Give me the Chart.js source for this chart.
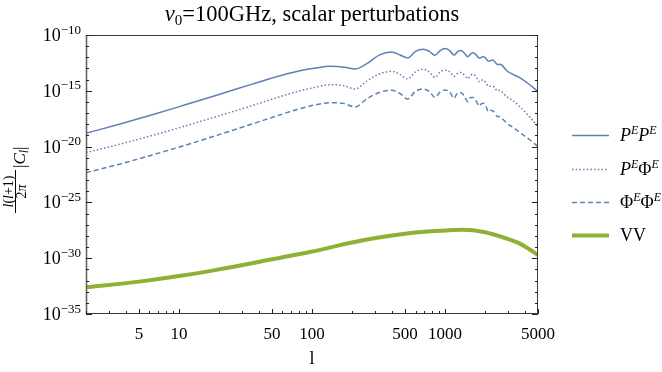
<!DOCTYPE html>
<html><head><meta charset="utf-8">
<script src="https://cdn.jsdelivr.net/npm/chart.js@4/dist/chart.umd.min.js"></script>
<style>html,body{margin:0;padding:0;background:#fff}#wrap{width:662px;height:372px;position:relative}</style>
</head><body><div id="wrap"><canvas id="c" width="662" height="372"></canvas></div>
<script>
// ---- data ----
const ell = [2, 3.5, 6.3, 11, 20, 36, 64, 81, 107, 137, 175, 210, 260, 320, 397, 460, 524, 600, 687, 760, 841, 920, 1000, 1085, 1169, 1240, 1321, 1400, 1482, 1560, 1634, 1720, 1812, 1880, 1941, 2030, 2118, 2200, 2286, 2380, 2474, 2570, 2672, 2912, 3266, 3664, 4355, 5000];
// log10 of l(l+1)/2pi |C_l|
const logPEPE = [-18.81, -18.02, -17.15, -16.28, -15.33, -14.38, -13.50, -13.20, -12.95, -12.80, -12.88, -13.05, -12.54, -11.80, -11.52, -11.79, -12.06, -11.46, -11.28, -11.46, -11.82, -11.40, -11.22, -11.40, -11.80, -11.52, -11.40, -11.64, -11.94, -11.70, -11.60, -11.80, -12.09, -12.00, -11.92, -12.10, -12.35, -12.30, -12.25, -12.42, -12.65, -12.62, -12.70, -13.20, -13.55, -13.85, -14.48, -15.08];
const logPEPhiE = [-20.54, -19.82, -19.00, -18.17, -17.24, -16.30, -15.35, -15.00, -14.68, -14.45, -14.55, -14.84, -14.10, -13.50, -13.25, -13.55, -13.94, -13.30, -13.07, -13.30, -13.79, -13.30, -13.15, -13.30, -13.70, -13.45, -13.35, -13.60, -13.90, -13.60, -13.52, -13.80, -14.18, -14.05, -14.03, -14.30, -14.60, -14.60, -14.60, -14.80, -15.00, -14.95, -15.10, -15.53, -15.90, -16.45, -17.38, -18.21];
const logPhiEPhiE = [-22.33, -21.60, -20.75, -19.90, -18.93, -17.95, -16.98, -16.60, -16.25, -16.06, -16.15, -16.45, -15.70, -15.15, -14.96, -15.25, -15.73, -15.05, -14.84, -15.05, -15.58, -15.10, -14.93, -15.10, -15.67, -15.20, -15.17, -15.50, -15.97, -15.60, -15.60, -15.95, -16.36, -16.15, -16.12, -16.40, -16.87, -16.75, -16.80, -17.00, -17.32, -17.30, -17.45, -17.90, -18.30, -18.75, -19.41, -20.00];
const ellVV = [2, 5, 10, 20, 50, 100, 200, 300, 500, 700, 1000, 1358, 2000, 2874, 3623, 4300, 5000];
const logVV = [-32.61, -32.10, -31.60, -31.00, -30.10, -29.40, -28.59, -28.19, -27.80, -27.62, -27.52, -27.46, -27.68, -28.22, -28.67, -29.20, -29.71];

const xTickValues = [5, 10, 50, 100, 500, 1000, 5000];
const xTickLabels = ['5', '10', '50', '100', '500', '1000', '5000'];
const yTickExponents = [-10, -15, -20, -25, -30, -35];
const chartTitle = ['ν', '0', '=100GHz, scalar perturbations'];
const xTitle = 'l';

// ---- styles ----
const BLUE = '#5E81B5';
const GREEN = '#8FB032';
const SERIF = '"Liberation Serif", "Times New Roman", serif';

const toPts = (xs, ls) => xs.map((l, i) => ({ x: l, y: Math.pow(10, ls[i]) }));

function drawRun(ctx, x, y, parts, align) {
  let w = 0;
  parts.forEach(p => { ctx.font = p[1]; w += ctx.measureText(p[0]).width; });
  if (align === 'center') x -= w / 2;
  else if (align === 'right') x -= w;
  ctx.textAlign = 'left';
  parts.forEach(p => {
    ctx.font = p[1];
    ctx.fillText(p[0], x, y + (p[2] || 0));
    x += ctx.measureText(p[0]).width;
  });
  return w;
}

const decor = {
  id: 'decor',
  afterDatasetsDraw(chart) {
    const ctx = chart.ctx;
    const { left, right, top, bottom } = chart.chartArea;
    const xs = chart.scales.x, ys = chart.scales.y;
    ctx.save();
    // frame
    ctx.strokeStyle = '#3a3a3a';
    ctx.lineWidth = 1;
    ctx.beginPath();
    ctx.moveTo(left + 0.5, top + 0.5); ctx.lineTo(right - 0.5, top + 0.5);
    ctx.lineTo(right - 0.5, bottom - 0.5); ctx.lineTo(left + 0.5, bottom - 0.5);
    ctx.closePath(); ctx.stroke();
    ctx.strokeStyle = '#666';
    ctx.lineWidth = 1.6;
    ctx.beginPath(); ctx.moveTo(left + 0.5, top); ctx.lineTo(left + 0.5, bottom); ctx.stroke();

    // ticks
    ctx.strokeStyle = '#222';
    ctx.lineWidth = 1;
    ctx.beginPath();
    for (let d = 1; d <= 1000; d *= 10) {
      for (let m = 1; m <= 9; m++) {
        const v = m * d;
        if (v < 2 || v > 5000) continue;
        const px = Math.round(xs.getPixelForValue(v)) + 0.5;
        const major = xTickValues.includes(v);
        const len = major ? 5 : 3;
        ctx.moveTo(px, bottom); ctx.lineTo(px, bottom - len);
      }
    }
    for (let e = -35; e <= -10; e++) {
      const py = Math.round(ys.getPixelForValue(Math.pow(10, e))) + 0.5;
      const major = yTickExponents.includes(e);
      const len = major ? 6 : 3;
      ctx.moveTo(left, py); ctx.lineTo(left + len, py);
      ctx.moveTo(right, py); ctx.lineTo(right - len, py);
    }
    ctx.stroke();

    ctx.fillStyle = '#000';
    ctx.textBaseline = 'alphabetic';
    // x tick labels
    xTickValues.forEach((v, i) => {
      const px = xs.getPixelForValue(v);
      drawRun(ctx, px, 339, [[xTickLabels[i], '17px ' + SERIF]], 'center');
    });
    // y tick labels
    yTickExponents.forEach(e => {
      const py = ys.getPixelForValue(Math.pow(10, e));
      drawRun(ctx, 81, py + 6, [['10', '18px ' + SERIF], ['−' + Math.abs(e), '13px ' + SERIF, -7.5]], 'right');
    });
    // x title
    drawRun(ctx, (left + right) / 2, 364, [[xTitle, '18px ' + SERIF]], 'center');
    // title
    drawRun(ctx, (left + right) / 2, 21, [
      [chartTitle[0], 'italic 22.5px ' + SERIF],
      [chartTitle[1], '15px ' + SERIF, 4],
      [chartTitle[2], '22.5px ' + SERIF]
    ], 'center');

    // y axis label (rotated)
    ctx.save();
    ctx.rotate(-Math.PI / 2);
    const fc = -191.5;
    ctx.strokeStyle = '#000';
    ctx.lineWidth = 1;
    ctx.beginPath(); ctx.moveTo(-213, 15.5); ctx.lineTo(-170, 15.5); ctx.stroke();
    drawRun(ctx, fc, 13, [
      ['l', 'italic 14px ' + SERIF], ['(', '14px ' + SERIF], ['l', 'italic 14px ' + SERIF], ['+1)', '14px ' + SERIF]
    ], 'center');
    drawRun(ctx, fc, 26, [['2', '14px ' + SERIF], ['π', 'italic 14px ' + SERIF]], 'center');
    drawRun(ctx, -168, 25, [
      ['|', '17px ' + SERIF], ['C', 'italic 17px ' + SERIF], ['l', 'italic 12px ' + SERIF, 3], ['|', '17px ' + SERIF]
    ], 'left');
    ctx.restore();

    // legend
    const lx0 = 572, lx1 = 609, tx = 620;
    const it = 'italic 18px ' + SERIF, up = '18px ' + SERIF, sup = 'italic 12px ' + SERIF;
    const rows = [
      { y: 135, color: BLUE, w: 1.5, dash: [], parts: [['P', it], ['E', sup, -7], ['P', it], ['E', sup, -7]] },
      { y: 169, color: BLUE, w: 1.5, dash: [1.5, 2.2], parts: [['P', it], ['E', sup, -7], ['Φ', up], ['E', sup, -7]] },
      { y: 202, color: BLUE, w: 1.5, dash: [5, 3], parts: [['Φ', up], ['E', sup, -7], ['Φ', up], ['E', sup, -7]] },
      { y: 235, color: GREEN, w: 4, dash: [], parts: [['VV', up]] }
    ];
    rows.forEach(r => {
      ctx.strokeStyle = r.color; ctx.lineWidth = r.w; ctx.setLineDash(r.dash);
      ctx.beginPath(); ctx.moveTo(lx0, r.y + 0.5); ctx.lineTo(lx1, r.y + 0.5); ctx.stroke();
      ctx.setLineDash([]);
      ctx.fillStyle = '#000';
      drawRun(ctx, tx, r.y + 6, r.parts, 'left');
    });
    ctx.restore();
  }
};

new Chart(document.getElementById('c'), {
  type: 'line',
  data: {
    datasets: [
      { label: 'PEPE', data: toPts(ell, logPEPE), borderColor: BLUE, borderWidth: 1.5 },
      { label: 'PEPhiE', data: toPts(ell, logPEPhiE), borderColor: BLUE, borderWidth: 1.5, borderDash: [1.5, 2.2] },
      { label: 'PhiEPhiE', data: toPts(ell, logPhiEPhiE), borderColor: BLUE, borderWidth: 1.5, borderDash: [5, 3] },
      { label: 'VV', data: toPts(ellVV, logVV), borderColor: GREEN, borderWidth: 4 }
    ]
  },
  options: {
    responsive: false,
    animation: false,
    layout: { padding: { left: 86, right: 124, top: 35, bottom: 58 } },
    elements: { point: { radius: 0 }, line: { cubicInterpolationMode: 'monotone', fill: false } },
    scales: {
      x: { type: 'logarithmic', min: 2, max: 5000, display: false },
      y: { type: 'logarithmic', min: 1e-35, max: 1e-10, display: false }
    },
    plugins: { legend: { display: false }, tooltip: { enabled: false }, title: { display: false } }
  },
  plugins: [decor]
});
</script>
</body></html>
